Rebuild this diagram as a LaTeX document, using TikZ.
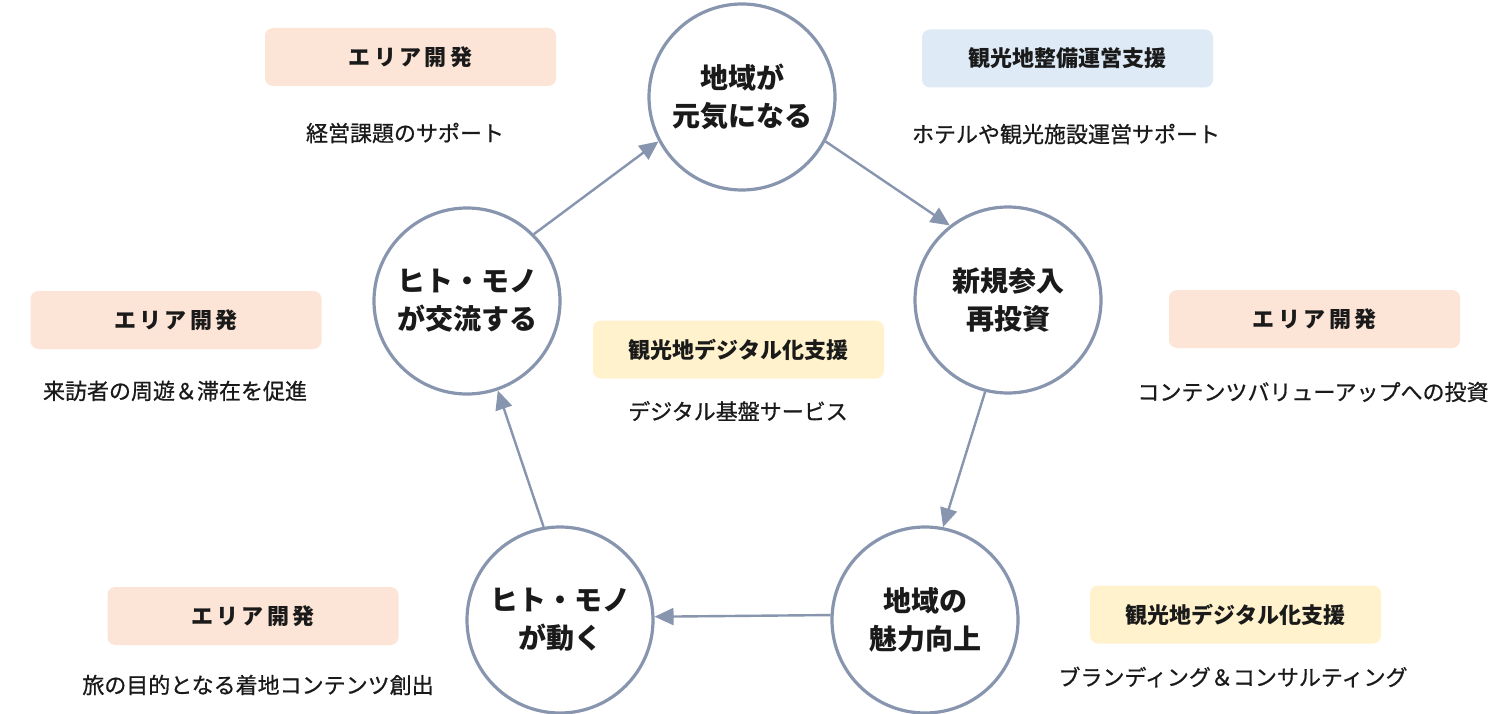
\documentclass[tikz,border=0pt]{standalone}
\usepackage{fontspec}
\setmainfont{Noto Sans CJK JP}
\newfontface\descfont{Noto Sans CJK JP}[FakeBold=0.7]
\usetikzlibrary{arrows.meta}
\definecolor{ringc}{HTML}{8796AE}
\definecolor{txt}{HTML}{1A1A1A}
\definecolor{peach}{HTML}{FCE4D6}
\definecolor{paleblue}{HTML}{DEEBF7}
\definecolor{paleyellow}{HTML}{FFF2CC}
\newcommand{\areadev}{エ\kern3.5pt リ\kern3.5pt ア\kern3.5pt 開\kern3.5pt 発}
\begin{document}
\begin{tikzpicture}[x=1pt,y=-1pt,
  ring/.style={circle,draw=ringc,line width=3.2pt,minimum size=186pt,inner sep=0pt,align=center,
    font=\fontsize{28}{38}\selectfont\bfseries,text=txt},
  flow/.style={draw=ringc,line width=2.4pt,-{Triangle[length=19pt,width=17pt]}},
  tag/.style={rounded corners=8pt,minimum width=291pt,minimum height=58pt,inner sep=0pt,
    font=\fontsize{22}{26}\selectfont\bfseries,text=txt},
  desc/.style={font=\fontsize{22}{26}\descfont,text=txt,inner sep=0pt}]
\useasboundingbox[fill=white] (0,0) rectangle (1507,714);

% circles
\node[ring] (c1) at (742,97) {地域が\\元気になる};
\node[ring] (c2) at (1008,300) {新規参入\\再投資};
\node[ring] (c3) at (925,620) {地域の\\魅力向上};
\node[ring] (c4) at (560,620) {ヒト・モノ\\が動く};
\node[ring] (c5) at (467,301) {ヒト・モノ\\が交流する};

% connectors
\draw[flow] (c1.-28.7) -- (c2.128.4);
\draw[flow] (c2.-104.6) -- (c3.79.6);
\draw[flow] (c3.177.5) -- (c4.2.5);
\draw[flow] (c4.100.5) -- (c5.-71.4);
\draw[flow] (c5.45) -- (c1.208.7);

% tags
\node[tag,fill=peach] (t1) at (410.5,57) {\areadev};
\node[desc] (d1) at (405,133) {経営課題のサポート};

\node[tag,fill=paleblue] (t2) at (1067.5,58.5) {観光地整備運営支援};
\node[desc] (d2) at (1066,134) {ホテルや観光施設運営サポート};

\node[tag,fill=peach] (t3) at (176,320) {\areadev};
\node[desc] (d3) at (175,391) {来訪者の周遊＆滞在を促進};

\node[tag,fill=paleyellow] (t4) at (738.5,349.5) {観光地デジタル化支援};
\node[desc] (d4) at (738,411) {デジタル基盤サービス};

\node[tag,fill=peach] (t5) at (1314.5,319) {\areadev};
\node[desc] (d5) at (1313,392) {コンテンツバリューアップへの投資};

\node[tag,fill=peach] (t6) at (253,616) {\areadev};
\node[desc] (d6) at (258,685) {旅の目的となる着地コンテンツ創出};

\node[tag,fill=paleyellow] (t7) at (1235.5,614.5) {観光地デジタル化支援};
\node[desc] (d7) at (1233,677) {ブランディング＆コンサルティング};
\end{tikzpicture}
\end{document}
